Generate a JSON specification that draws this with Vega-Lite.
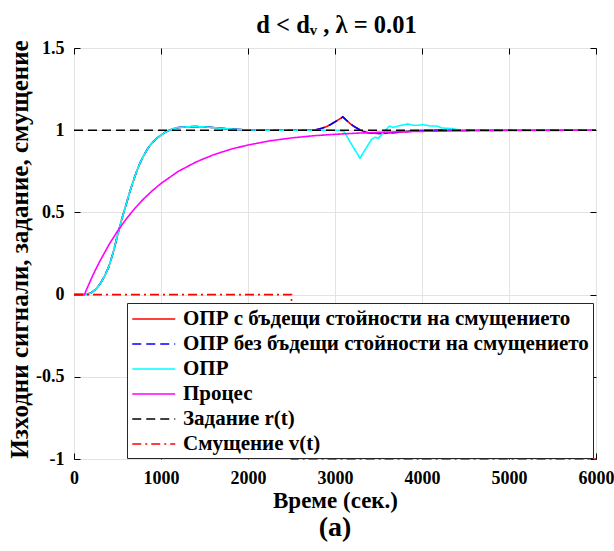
{
  "$schema": "https://vega.github.io/schema/vega-lite/v6.json",
  "width": 522,
  "height": 411,
  "autosize": {"type": "none"},
  "padding": {"left": 74, "top": 48, "right": 18, "bottom": 92},
  "config": {
    "font": "Liberation Serif, Times New Roman, serif",
    "view": {"stroke": "black", "strokeWidth": 1}
  },
  "title": {"text": "(a)", "orient": "bottom", "fontSize": 28, "fontWeight": "bold", "font": "Liberation Serif, Times New Roman, serif", "color": "black", "offset": 2, "anchor": "middle"},
  "data": {"values": [
    {"s": "ОПР с бъдещи стойности на смущението", "t": 0, "v": 0},
    {"s": "ОПР с бъдещи стойности на смущението", "t": 120, "v": 0},
    {"s": "ОПР с бъдещи стойности на смущението", "t": 150, "v": 0.002},
    {"s": "ОПР с бъдещи стойности на смущението", "t": 200, "v": 0.012},
    {"s": "ОПР с бъдещи стойности на смущението", "t": 250, "v": 0.032},
    {"s": "ОПР с бъдещи стойности на смущението", "t": 300, "v": 0.065},
    {"s": "ОПР с бъдещи стойности на смущението", "t": 350, "v": 0.11},
    {"s": "ОПР с бъдещи стойности на смущението", "t": 400, "v": 0.17},
    {"s": "ОПР с бъдещи стойности на смущението", "t": 450, "v": 0.255},
    {"s": "ОПР с бъдещи стойности на смущението", "t": 500, "v": 0.36},
    {"s": "ОПР с бъдещи стойности на смущението", "t": 550, "v": 0.46},
    {"s": "ОПР с бъдещи стойности на смущението", "t": 600, "v": 0.55},
    {"s": "ОПР с бъдещи стойности на смущението", "t": 650, "v": 0.64},
    {"s": "ОПР с бъдещи стойности на смущението", "t": 700, "v": 0.72},
    {"s": "ОПР с бъдещи стойности на смущението", "t": 750, "v": 0.79},
    {"s": "ОПР с бъдещи стойности на смущението", "t": 800, "v": 0.845},
    {"s": "ОПР с бъдещи стойности на смущението", "t": 850, "v": 0.89},
    {"s": "ОПР с бъдещи стойности на смущението", "t": 900, "v": 0.925},
    {"s": "ОПР с бъдещи стойности на смущението", "t": 950, "v": 0.95},
    {"s": "ОПР с бъдещи стойности на смущението", "t": 1000, "v": 0.97},
    {"s": "ОПР с бъдещи стойности на смущението", "t": 1050, "v": 0.988},
    {"s": "ОПР с бъдещи стойности на смущението", "t": 1100, "v": 1.001},
    {"s": "ОПР с бъдещи стойности на смущението", "t": 1150, "v": 1.01},
    {"s": "ОПР с бъдещи стойности на смущението", "t": 1200, "v": 1.016},
    {"s": "ОПР с бъдещи стойности на смущението", "t": 1300, "v": 1.021},
    {"s": "ОПР с бъдещи стойности на смущението", "t": 1400, "v": 1.022},
    {"s": "ОПР с бъдещи стойности на смущението", "t": 1500, "v": 1.02},
    {"s": "ОПР с бъдещи стойности на смущението", "t": 1600, "v": 1.016},
    {"s": "ОПР с бъдещи стойности на смущението", "t": 1700, "v": 1.011},
    {"s": "ОПР с бъдещи стойности на смущението", "t": 1800, "v": 1.007},
    {"s": "ОПР с бъдещи стойности на смущението", "t": 1900, "v": 1.004},
    {"s": "ОПР с бъдещи стойности на смущението", "t": 2000, "v": 1.002},
    {"s": "ОПР с бъдещи стойности на смущението", "t": 2200, "v": 1.0},
    {"s": "ОПР с бъдещи стойности на смущението", "t": 2500, "v": 1.0},
    {"s": "ОПР с бъдещи стойности на смущението", "t": 2700, "v": 1.0},
    {"s": "ОПР с бъдещи стойности на смущението", "t": 2770, "v": 1.002},
    {"s": "ОПР с бъдещи стойности на смущението", "t": 2850, "v": 1.012},
    {"s": "ОПР с бъдещи стойности на смущението", "t": 2900, "v": 1.021},
    {"s": "ОПР с бъдещи стойности на смущението", "t": 2950, "v": 1.035},
    {"s": "ОПР с бъдещи стойности на смущението", "t": 3000, "v": 1.051},
    {"s": "ОПР с бъдещи стойности на смущението", "t": 3050, "v": 1.067},
    {"s": "ОПР с бъдещи стойности на смущението", "t": 3090, "v": 1.081},
    {"s": "ОПР с бъдещи стойности на смущението", "t": 3130, "v": 1.061},
    {"s": "ОПР с бъдещи стойности на смущението", "t": 3170, "v": 1.042},
    {"s": "ОПР с бъдещи стойности на смущението", "t": 3210, "v": 1.026},
    {"s": "ОПР с бъдещи стойности на смущението", "t": 3250, "v": 1.013},
    {"s": "ОПР с бъдещи стойности на смущението", "t": 3300, "v": 0.998},
    {"s": "ОПР с бъдещи стойности на смущението", "t": 3350, "v": 0.988},
    {"s": "ОПР с бъдещи стойности на смущението", "t": 3400, "v": 0.983},
    {"s": "ОПР с бъдещи стойности на смущението", "t": 3500, "v": 0.98},
    {"s": "ОПР с бъдещи стойности на смущението", "t": 3600, "v": 0.982},
    {"s": "ОПР с бъдещи стойности на смущението", "t": 3700, "v": 0.986},
    {"s": "ОПР с бъдещи стойности на смущението", "t": 3800, "v": 0.991},
    {"s": "ОПР с бъдещи стойности на смущението", "t": 3950, "v": 0.997},
    {"s": "ОПР с бъдещи стойности на смущението", "t": 4200, "v": 1.0},
    {"s": "ОПР с бъдещи стойности на смущението", "t": 6000, "v": 1.0},
    {"s": "ОПР без бъдещи стойности на смущението", "t": 0, "v": 0},
    {"s": "ОПР без бъдещи стойности на смущението", "t": 120, "v": 0},
    {"s": "ОПР без бъдещи стойности на смущението", "t": 150, "v": 0.002},
    {"s": "ОПР без бъдещи стойности на смущението", "t": 200, "v": 0.012},
    {"s": "ОПР без бъдещи стойности на смущението", "t": 250, "v": 0.032},
    {"s": "ОПР без бъдещи стойности на смущението", "t": 300, "v": 0.065},
    {"s": "ОПР без бъдещи стойности на смущението", "t": 350, "v": 0.11},
    {"s": "ОПР без бъдещи стойности на смущението", "t": 400, "v": 0.17},
    {"s": "ОПР без бъдещи стойности на смущението", "t": 450, "v": 0.255},
    {"s": "ОПР без бъдещи стойности на смущението", "t": 500, "v": 0.36},
    {"s": "ОПР без бъдещи стойности на смущението", "t": 550, "v": 0.46},
    {"s": "ОПР без бъдещи стойности на смущението", "t": 600, "v": 0.55},
    {"s": "ОПР без бъдещи стойности на смущението", "t": 650, "v": 0.64},
    {"s": "ОПР без бъдещи стойности на смущението", "t": 700, "v": 0.72},
    {"s": "ОПР без бъдещи стойности на смущението", "t": 750, "v": 0.79},
    {"s": "ОПР без бъдещи стойности на смущението", "t": 800, "v": 0.845},
    {"s": "ОПР без бъдещи стойности на смущението", "t": 850, "v": 0.89},
    {"s": "ОПР без бъдещи стойности на смущението", "t": 900, "v": 0.925},
    {"s": "ОПР без бъдещи стойности на смущението", "t": 950, "v": 0.95},
    {"s": "ОПР без бъдещи стойности на смущението", "t": 1000, "v": 0.97},
    {"s": "ОПР без бъдещи стойности на смущението", "t": 1050, "v": 0.988},
    {"s": "ОПР без бъдещи стойности на смущението", "t": 1100, "v": 1.001},
    {"s": "ОПР без бъдещи стойности на смущението", "t": 1150, "v": 1.01},
    {"s": "ОПР без бъдещи стойности на смущението", "t": 1200, "v": 1.016},
    {"s": "ОПР без бъдещи стойности на смущението", "t": 1300, "v": 1.021},
    {"s": "ОПР без бъдещи стойности на смущението", "t": 1400, "v": 1.022},
    {"s": "ОПР без бъдещи стойности на смущението", "t": 1500, "v": 1.02},
    {"s": "ОПР без бъдещи стойности на смущението", "t": 1600, "v": 1.016},
    {"s": "ОПР без бъдещи стойности на смущението", "t": 1700, "v": 1.011},
    {"s": "ОПР без бъдещи стойности на смущението", "t": 1800, "v": 1.007},
    {"s": "ОПР без бъдещи стойности на смущението", "t": 1900, "v": 1.004},
    {"s": "ОПР без бъдещи стойности на смущението", "t": 2000, "v": 1.002},
    {"s": "ОПР без бъдещи стойности на смущението", "t": 2200, "v": 1.0},
    {"s": "ОПР без бъдещи стойности на смущението", "t": 2500, "v": 1.0},
    {"s": "ОПР без бъдещи стойности на смущението", "t": 2700, "v": 1.0},
    {"s": "ОПР без бъдещи стойности на смущението", "t": 2770, "v": 1.002},
    {"s": "ОПР без бъдещи стойности на смущението", "t": 2850, "v": 1.012},
    {"s": "ОПР без бъдещи стойности на смущението", "t": 2900, "v": 1.021},
    {"s": "ОПР без бъдещи стойности на смущението", "t": 2950, "v": 1.035},
    {"s": "ОПР без бъдещи стойности на смущението", "t": 3000, "v": 1.051},
    {"s": "ОПР без бъдещи стойности на смущението", "t": 3050, "v": 1.067},
    {"s": "ОПР без бъдещи стойности на смущението", "t": 3090, "v": 1.081},
    {"s": "ОПР без бъдещи стойности на смущението", "t": 3130, "v": 1.061},
    {"s": "ОПР без бъдещи стойности на смущението", "t": 3170, "v": 1.042},
    {"s": "ОПР без бъдещи стойности на смущението", "t": 3210, "v": 1.026},
    {"s": "ОПР без бъдещи стойности на смущението", "t": 3250, "v": 1.013},
    {"s": "ОПР без бъдещи стойности на смущението", "t": 3300, "v": 0.998},
    {"s": "ОПР без бъдещи стойности на смущението", "t": 3350, "v": 0.988},
    {"s": "ОПР без бъдещи стойности на смущението", "t": 3400, "v": 0.983},
    {"s": "ОПР без бъдещи стойности на смущението", "t": 3500, "v": 0.98},
    {"s": "ОПР без бъдещи стойности на смущението", "t": 3600, "v": 0.982},
    {"s": "ОПР без бъдещи стойности на смущението", "t": 3700, "v": 0.986},
    {"s": "ОПР без бъдещи стойности на смущението", "t": 3800, "v": 0.991},
    {"s": "ОПР без бъдещи стойности на смущението", "t": 3950, "v": 0.997},
    {"s": "ОПР без бъдещи стойности на смущението", "t": 4200, "v": 1.0},
    {"s": "ОПР без бъдещи стойности на смущението", "t": 6000, "v": 1.0},
    {"s": "ОПР", "t": 0, "v": 0},
    {"s": "ОПР", "t": 120, "v": 0},
    {"s": "ОПР", "t": 150, "v": 0.002},
    {"s": "ОПР", "t": 200, "v": 0.012},
    {"s": "ОПР", "t": 250, "v": 0.032},
    {"s": "ОПР", "t": 300, "v": 0.065},
    {"s": "ОПР", "t": 350, "v": 0.11},
    {"s": "ОПР", "t": 400, "v": 0.17},
    {"s": "ОПР", "t": 450, "v": 0.255},
    {"s": "ОПР", "t": 500, "v": 0.36},
    {"s": "ОПР", "t": 550, "v": 0.46},
    {"s": "ОПР", "t": 600, "v": 0.55},
    {"s": "ОПР", "t": 650, "v": 0.64},
    {"s": "ОПР", "t": 700, "v": 0.72},
    {"s": "ОПР", "t": 750, "v": 0.79},
    {"s": "ОПР", "t": 800, "v": 0.845},
    {"s": "ОПР", "t": 850, "v": 0.89},
    {"s": "ОПР", "t": 900, "v": 0.925},
    {"s": "ОПР", "t": 950, "v": 0.95},
    {"s": "ОПР", "t": 1000, "v": 0.97},
    {"s": "ОПР", "t": 1050, "v": 0.988},
    {"s": "ОПР", "t": 1100, "v": 1.001},
    {"s": "ОПР", "t": 1150, "v": 1.01},
    {"s": "ОПР", "t": 1200, "v": 1.016},
    {"s": "ОПР", "t": 1300, "v": 1.021},
    {"s": "ОПР", "t": 1400, "v": 1.022},
    {"s": "ОПР", "t": 1500, "v": 1.02},
    {"s": "ОПР", "t": 1600, "v": 1.016},
    {"s": "ОПР", "t": 1700, "v": 1.011},
    {"s": "ОПР", "t": 1800, "v": 1.007},
    {"s": "ОПР", "t": 1900, "v": 1.004},
    {"s": "ОПР", "t": 2000, "v": 1.002},
    {"s": "ОПР", "t": 2200, "v": 1.0},
    {"s": "ОПР", "t": 2500, "v": 1.0},
    {"s": "ОПР", "t": 3050, "v": 1.0},
    {"s": "ОПР", "t": 3107, "v": 0.99},
    {"s": "ОПР", "t": 3150, "v": 0.95},
    {"s": "ОПР", "t": 3200, "v": 0.905},
    {"s": "ОПР", "t": 3250, "v": 0.862},
    {"s": "ОПР", "t": 3287, "v": 0.829},
    {"s": "ОПР", "t": 3345, "v": 0.88},
    {"s": "ОПР", "t": 3422, "v": 0.945},
    {"s": "ОПР", "t": 3460, "v": 0.957},
    {"s": "ОПР", "t": 3498, "v": 0.951},
    {"s": "ОПР", "t": 3548, "v": 0.981},
    {"s": "ОПР", "t": 3625, "v": 1.025},
    {"s": "ОПР", "t": 3670, "v": 1.017},
    {"s": "ОПР", "t": 3727, "v": 1.025},
    {"s": "ОПР", "t": 3831, "v": 1.038},
    {"s": "ОПР", "t": 3900, "v": 1.03},
    {"s": "ОПР", "t": 3958, "v": 1.03},
    {"s": "ОПР", "t": 4015, "v": 1.034},
    {"s": "ОПР", "t": 4092, "v": 1.026},
    {"s": "ОПР", "t": 4169, "v": 1.026},
    {"s": "ОПР", "t": 4226, "v": 1.014},
    {"s": "ОПР", "t": 4300, "v": 1.011},
    {"s": "ОПР", "t": 4360, "v": 1.009},
    {"s": "ОПР", "t": 4418, "v": 1.002},
    {"s": "ОПР", "t": 4500, "v": 1.0},
    {"s": "ОПР", "t": 6000, "v": 1.0},
    {"s": "Процес", "t": 0, "v": 0},
    {"s": "Процес", "t": 120, "v": 0},
    {"s": "Процес", "t": 150, "v": 0.038},
    {"s": "Процес", "t": 200, "v": 0.098},
    {"s": "Процес", "t": 250, "v": 0.154},
    {"s": "Процес", "t": 300, "v": 0.206},
    {"s": "Процес", "t": 400, "v": 0.302},
    {"s": "Процес", "t": 500, "v": 0.386},
    {"s": "Процес", "t": 600, "v": 0.46},
    {"s": "Процес", "t": 700, "v": 0.525},
    {"s": "Процес", "t": 800, "v": 0.582},
    {"s": "Процес", "t": 900, "v": 0.632},
    {"s": "Процес", "t": 1000, "v": 0.676},
    {"s": "Процес", "t": 1200, "v": 0.75},
    {"s": "Процес", "t": 1400, "v": 0.806},
    {"s": "Процес", "t": 1600, "v": 0.85},
    {"s": "Процес", "t": 1800, "v": 0.884},
    {"s": "Процес", "t": 2000, "v": 0.91},
    {"s": "Процес", "t": 2250, "v": 0.935},
    {"s": "Процес", "t": 2500, "v": 0.953},
    {"s": "Процес", "t": 2750, "v": 0.966},
    {"s": "Процес", "t": 3000, "v": 0.975},
    {"s": "Процес", "t": 3250, "v": 0.982},
    {"s": "Процес", "t": 3500, "v": 0.987},
    {"s": "Процес", "t": 3750, "v": 0.99},
    {"s": "Процес", "t": 4000, "v": 0.993},
    {"s": "Процес", "t": 4500, "v": 0.996},
    {"s": "Процес", "t": 5000, "v": 0.998},
    {"s": "Процес", "t": 6000, "v": 1.0},
    {"s": "Задание r(t)", "t": 0, "v": 1},
    {"s": "Задание r(t)", "t": 6000, "v": 1},
    {"s": "Смущение v(t)", "t": 0, "v": 0},
    {"s": "Смущение v(t)", "t": 2500, "v": 0},
    {"s": "Смущение v(t)", "t": 2500, "v": -1},
    {"s": "Смущение v(t)", "t": 6000, "v": -1}
  ]},
  "layer": [
    {
      "mark": {"type": "line", "strokeWidth": 1.6},
      "encoding": {
        "x": {
          "field": "t", "type": "quantitative",
          "scale": {"domain": [0, 6000], "nice": false},
          "axis": {
            "orient": "bottom", "values": [0, 1000, 2000, 3000, 4000, 5000, 6000],
            "grid": true, "gridColor": "#e3e3e3", "gridWidth": 1,
            "domain": false, "ticks": true, "tickSize": -6, "tickColor": "black",
            "labelExpr": "'' + datum.value", "labelFont": "Liberation Serif, Times New Roman, serif", "labelFontSize": 18, "labelFontWeight": "bold", "labelColor": "black", "labelPadding": 16, "labelFlush": false, "labelOverlap": false,
            "title": "Време (сек.)", "titleFont": "Liberation Serif, Times New Roman, serif", "titleFontSize": 23, "titleFontWeight": "bold", "titleColor": "black",
            "titleBaseline": "alphabetic", "titleAlign": "center", "titleX": 261, "titleY": 48
          }
        },
        "y": {
          "field": "v", "type": "quantitative",
          "scale": {"domain": [-1, 1.5], "nice": false, "zero": false},
          "axis": {
            "orient": "left", "values": [-1, -0.5, 0, 0.5, 1, 1.5],
            "grid": true, "gridColor": "#e3e3e3", "gridWidth": 1,
            "domain": false, "ticks": true, "tickSize": -6, "tickColor": "black",
            "labelExpr": "'' + datum.value", "labelFont": "Liberation Serif, Times New Roman, serif", "labelFontSize": 18, "labelFontWeight": "bold", "labelColor": "black", "labelPadding": 16, "labelFlush": false, "labelOverlap": false,
            "title": "Изходни сигнали, задание, смущение", "titleFont": "Liberation Serif, Times New Roman, serif", "titleFontSize": 25, "titleFontWeight": "bold", "titleColor": "black",
            "titleAngle": 270, "titleBaseline": "alphabetic", "titleAlign": "center", "titleX": -47, "titleY": 201
          }
        },
        "color": {
          "field": "s", "type": "nominal",
          "scale": {
            "domain": ["ОПР с бъдещи стойности на смущението", "ОПР без бъдещи стойности на смущението", "ОПР", "Процес", "Задание r(t)", "Смущение v(t)"],
            "range": ["#ff0000", "#0000ff", "#00ffff", "#ff00ff", "#000000", "#ff0000"]
          },
          "legend": {
            "title": null, "orient": "none", "legendX": 53, "legendY": 255,
            "symbolType": "M-1,0H3", "symbolSize": 462, "symbolStrokeWidth": 1.6,
            "labelFont": "Liberation Serif, Times New Roman, serif", "labelFontSize": 21, "labelFontWeight": "bold", "labelColor": "black", "labelLimit": 0, "labelOffset": 28,
            "strokeColor": "#262626", "fillColor": "white", "padding": 4, "rowPadding": 3
          }
        },
        "strokeDash": {
          "field": "s", "type": "nominal",
          "scale": {
            "domain": ["ОПР с бъдещи стойности на смущението", "ОПР без бъдещи стойности на смущението", "ОПР", "Процес", "Задание r(t)", "Смущение v(t)"],
            "range": [[1, 0], [9, 5], [1, 0], [1, 0], [9, 5], [9, 4, 2, 4]]
          },
          "legend": {
            "title": null, "orient": "none", "legendX": 53, "legendY": 255,
            "symbolType": "M-1,0H3", "symbolSize": 462, "symbolStrokeWidth": 1.6,
            "labelFont": "Liberation Serif, Times New Roman, serif", "labelFontSize": 21, "labelFontWeight": "bold", "labelColor": "black", "labelLimit": 0, "labelOffset": 28,
            "strokeColor": "#262626", "fillColor": "white", "padding": 4, "rowPadding": 3
          }
        },
        "order": [{"field": "t", "type": "quantitative"}, {"field": "v", "type": "quantitative", "sort": "descending"}]
      }
    },
    {
      "mark": {"type": "point", "opacity": 0},
      "encoding": {
        "x": {
          "field": "t", "type": "quantitative",
          "axis": {
            "orient": "top", "values": [0, 1000, 2000, 3000, 4000, 5000, 6000],
            "grid": false, "domain": false, "labels": false, "ticks": true, "tickSize": -6, "tickColor": "black",
            "title": "d < dᵥ , λ = 0.01", "titleFont": "Liberation Serif, Times New Roman, serif", "titleFontSize": 24.5, "titleFontWeight": "bold", "titleColor": "black",
            "titleBaseline": "alphabetic", "titleAlign": "center", "titleX": 262, "titleY": -16
          }
        },
        "y": {
          "field": "v", "type": "quantitative",
          "axis": {
            "orient": "right", "values": [-1, -0.5, 0, 0.5, 1, 1.5],
            "grid": false, "domain": false, "labels": false, "ticks": true, "tickSize": -6, "tickColor": "black",
            "title": null
          }
        }
      }
    }
  ],
  "resolve": {"axis": {"x": "independent", "y": "independent"}}
}
